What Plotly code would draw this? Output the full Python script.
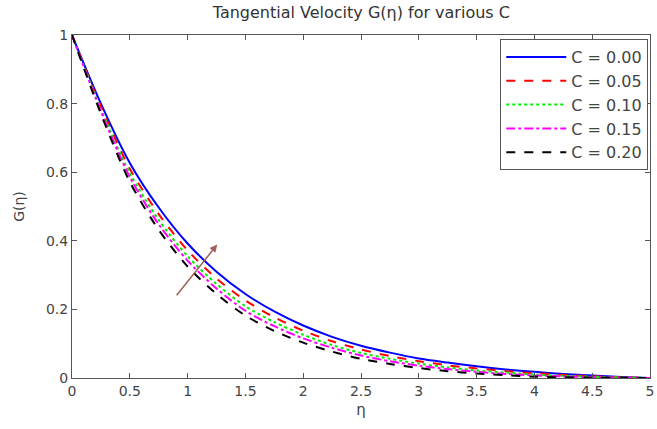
import plotly.graph_objects as go

eta = [0, 0.25, 0.5, 0.75, 1.0, 1.25, 1.5, 1.75, 2.0, 2.25, 2.5, 2.75, 3.0,
       3.25, 3.5, 3.75, 4.0, 4.25, 4.5, 4.75, 5.0]

G_c000 = [1, 0.80, 0.627, 0.497, 0.392, 0.310, 0.245, 0.194, 0.153, 0.120, 0.094, 0.074, 0.057,
          0.045, 0.034, 0.025, 0.018, 0.012, 0.007, 0.003, 0]
G_c005 = [1, 0.791, 0.610, 0.478, 0.372, 0.290, 0.226, 0.177, 0.138, 0.107, 0.083, 0.064, 0.049,
          0.037, 0.028, 0.020, 0.014, 0.009, 0.005, 0.002, 0]
G_c010 = [1, 0.784, 0.597, 0.461, 0.355, 0.274, 0.209, 0.163, 0.126, 0.096, 0.073, 0.056, 0.042,
          0.031, 0.022, 0.016, 0.010, 0.0065, 0.0037, 0.0016, 0]
G_c015 = [1, 0.778, 0.586, 0.448, 0.342, 0.261, 0.196, 0.151, 0.1155, 0.088, 0.0655, 0.049, 0.036,
          0.026, 0.018, 0.012, 0.0075, 0.0045, 0.0025, 0.001, 0]
G_c020 = [1, 0.770, 0.572, 0.432, 0.325, 0.245, 0.182, 0.137, 0.103, 0.077, 0.056, 0.041, 0.029,
          0.020, 0.013, 0.008, 0.004, 0.002, 0.001, 0.0005, 0]

names = ["C = 0.00", "C = 0.05", "C = 0.10", "C = 0.15", "C = 0.20"]
series = [G_c000, G_c005, G_c010, G_c015, G_c020]
colors = ["#0000ff", "#ff0000", "#00ee00", "#ff00ff", "#000000"]
dashes = ["solid", "dash", "dot", "dashdot", "dash"]

xticks = [0, 0.5, 1, 1.5, 2, 2.5, 3, 3.5, 4, 4.5, 5]
xticklabels = ["0", "0.5", "1", "1.5", "2", "2.5", "3", "3.5", "4", "4.5", "5"]
yticks = [0, 0.2, 0.4, 0.6, 0.8, 1]
yticklabels = ["0", "0.2", "0.4", "0.6", "0.8", "1"]

FONT = "DejaVu Sans, Liberation Sans, Arial"

fig = go.Figure()
for n, s, c, d in zip(names, series, colors, dashes):
    fig.add_trace(go.Scatter(x=eta, y=s, mode="lines", name=n,
                             line=dict(color=c, width=2, dash=d, shape="spline", smoothing=0.8)))

axis_common = dict(showline=True, linecolor="#555555", linewidth=1, mirror="ticks",
                   ticks="inside", ticklen=5, tickcolor="#555555", showgrid=False,
                   zeroline=False, ticklabeloverflow="allow",
                   tickfont=dict(family=FONT, size=14, color="#444444"))

fig.update_layout(
    width=657, height=429,
    margin=dict(l=72, r=3, t=35, b=51),
    paper_bgcolor="white", plot_bgcolor="white",
    title=dict(text="Tangential Velocity G(η) for various C", x=0.55, xanchor="center",
               y=0.97, yanchor="middle",
               font=dict(family=FONT, size=16, color="#333333")),
    xaxis=dict(range=[0, 5], tickvals=xticks, ticktext=xticklabels,
               title=dict(text="η", standoff=6, font=dict(family=FONT, size=15, color="#444444")),
               **axis_common),
    yaxis=dict(range=[0, 1], tickvals=yticks, ticktext=yticklabels,
               title=dict(text="G(η)", standoff=18, font=dict(family=FONT, size=14, color="#444444")),
               **axis_common),
    legend=dict(x=0.997, y=0.988, xanchor="right", yanchor="top",
                bgcolor="white", bordercolor="#555555", borderwidth=1,
                font=dict(family=FONT, size=16, color="#444444"),
                itemwidth=60),
    showlegend=True,
)

fig.add_annotation(x=1.256, y=0.389, ax=0.895, ay=0.237, xref="x", yref="y",
                   axref="x", ayref="y", showarrow=True, arrowhead=2, arrowsize=1,
                   arrowwidth=1.5, arrowcolor="#a0605a", text="")

fig.write_html("out.html")
